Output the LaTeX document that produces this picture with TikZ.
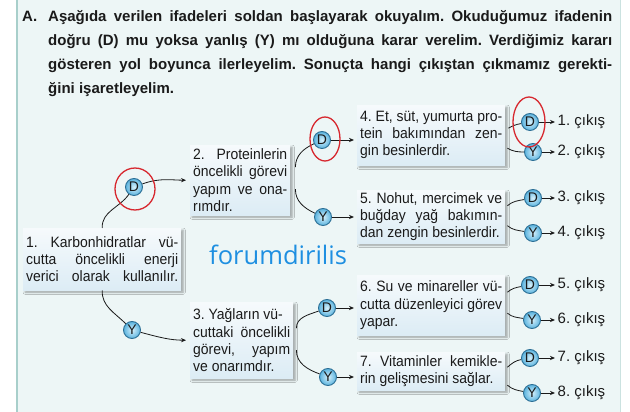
\documentclass[tikz,border=0pt]{standalone}
\usepackage{fontspec}
\setmainfont{Liberation Sans}
\newfontfamily\wmfont{Open Sans}
\newfontfamily\boxfont{Liberation Sans}[FakeStretch=0.93]
\usetikzlibrary{arrows.meta,calc,shadows.blur}
\frenchspacing
\newcommand\jline[1]{\makebox[\hsize][s]{#1}\\}
\definecolor{panel}{HTML}{EDF6F6}
\definecolor{panelline}{HTML}{A8CFCB}
\definecolor{boxtop}{HTML}{F6FAFC}
\definecolor{boxbot}{HTML}{DCECF5}
\definecolor{ballin}{HTML}{D6F0FB}
\definecolor{ballout}{HTML}{5AB3DE}
\definecolor{ballline}{HTML}{2C6F95}
\definecolor{ringred}{HTML}{D7282F}
\definecolor{wmblue}{HTML}{1E8FE1}
\definecolor{ink}{HTML}{1A1A1A}
\tikzset{
  box/.style={anchor=north west, inner xsep=3, inner ysep=2, align=justify,
    top color=boxtop, bottom color=boxbot, text=ink,
    font=\boxfont\fontsize{15}{17.2}\selectfont,
    blur shadow={shadow xshift=2pt, shadow yshift=-2pt, shadow blur steps=4, shadow opacity=35}},
  ball/.style={circle, minimum size=17, inner sep=0, draw=ballline, line width=0.9,
    inner color=ballin, outer color=ballout, text=ink, font=\fontsize{14}{14}\selectfont},
  conn/.style={draw=ink, line width=0.8},
  arrowc/.style={conn, -{Stealth[length=5,width=4.2]}},
  ring/.style={draw=ringred, line width=1.3},
  exitlbl/.style={anchor=west, inner sep=1.5, text=ink, font=\fontsize{15}{16}\selectfont},
}
\begin{document}
\begin{tikzpicture}[x=1pt,y=1pt]
\useasboundingbox (0,0) rectangle (630,412);
\fill[white] (0,0) rectangle (630,412);
\fill[panel] (17,0) rectangle (620,412);
\draw[panelline, line width=1.5] (17,0) -- (17,412);
\draw[panelline!60, line width=0.8] (620,0) -- (620,412);

% title
\node[anchor=base west, inner sep=0, text=ink, font=\fontsize{15}{23.7}\selectfont\bfseries] (TA) at (22,390) {A.};
\node[anchor=base west, inner sep=0, text width=564, align=justify, text=ink,
  font=\fontsize{15}{23.7}\selectfont\bfseries] (T) at (48,390)
  {\jline{Aşağıda verilen ifadeleri soldan başlayarak okuyalım. Okuduğumuz ifadenin}
   \jline{doğru (D) mu yoksa yanlış (Y) mı olduğuna karar verelim. Verdiğimiz kararı}
   \jline{gösteren yol boyunca ilerleyelim. Sonuçta hangi çıkıştan çıkmamız gerekti-}
   ğini işaretleyelim.};

% watermark
\node[anchor=west, inner sep=0, text=wmblue, font=\wmfont\fontsize{25.5}{26}\selectfont] (WM) at (209,157) {forumdirilis};

% boxes
\node[box, minimum width=158, minimum height=62, text width=152] (B1) at (23,184)
  {\jline{1. Karbonhidratlar vü-}\jline{cutta öncelikli enerji}\makebox[\hsize][s]{verici olarak kullanılır.}};
\node[box, minimum width=100, minimum height=70, text width=94] (B2) at (190,267)
  {\jline{2. Proteinlerin}\jline{öncelikli görevi}\jline{yapım ve ona-}rımdır.};
\node[box, minimum width=103, minimum height=76, text width=97] (B3) at (190,110)
  {3. Yağların vü-\\\jline{cuttaki öncelikli}\jline{görevi, yapım}ve onarımdır.};
\node[box, minimum width=148, minimum height=60, text width=142] (B4) at (357,307)
  {\jline{4. Et, süt, yumurta pro-}\jline{tein bakımından zen-}gin besinlerdir.};
\node[box, minimum width=148, minimum height=53, text width=142] (B5) at (357,222)
  {\jline{5. Nohut, mercimek ve}\jline{buğday yağ bakımın-}dan zengin besinlerdir.};
\node[box, minimum width=148, minimum height=60, text width=142] (B6) at (357,137)
  {\jline{6. Su ve minareller vü-}\jline{cutta düzenleyici görev}yapar.};
\node[box, minimum width=148, minimum height=38, text width=142] (B7) at (357,60)
  {\jline{7. Vitaminler kemikle-}rin gelişmesini sağlar.};

% decision balls
\node[ball] (D1) at (134,225) {D};
\node[ball] (Y1) at (132,82) {Y};
\node[ball] (D2) at (322,272) {D};
\node[ball] (Y2) at (323,195) {Y};
\node[ball] (D3) at (327,104) {D};
\node[ball] (Y3) at (328,35) {Y};
\node[ball] (D4) at (530,290) {D};
\node[ball] (Y4) at (533,260) {Y};
\node[ball] (D5) at (533,214) {D};
\node[ball] (Y5) at (533,179) {Y};
\node[ball] (D6) at (530,127) {D};
\node[ball] (Y6) at (532,92) {Y};
\node[ball] (D7) at (530,54) {D};
\node[ball] (Y7) at (532,19) {Y};

% exits
\node[exitlbl] (E1) at (556,290) {1. çıkış};
\node[exitlbl] (E2) at (556,260) {2. çıkış};
\node[exitlbl] (E3) at (556,214) {3. çıkış};
\node[exitlbl] (E4) at (556,179) {4. çıkış};
\node[exitlbl] (E5) at (556,127) {5. çıkış};
\node[exitlbl] (E6) at (556,92) {6. çıkış};
\node[exitlbl] (E7) at (556,54) {7. çıkış};
\node[exitlbl] (E8) at (556,19) {8. çıkış};
\foreach \b/\e in {D4/E1,Y4/E2,D5/E3,Y5/E4,D6/E5,Y6/E6,D7/E7,Y7/E8}
  \draw[arrowc, shorten >=1] (\b) -- (\b -| \e.west);

% connectors level 1
\draw[conn] (B1.north) to[out=92,in=235] (D1);
\draw[conn] (B1.south) to[out=-92,in=135] (Y1);
\draw[arrowc, shorten >=4] (D1) to[out=20,in=180] (B2.west);
\draw[arrowc, shorten >=4] (Y1) to[out=-15,in=180] (B3.west);

% connectors level 2
\coordinate (b2u) at ($(B2.east)+(5,13)$);
\coordinate (b2d) at ($(B2.east)+(5,-9)$);
\draw[conn] (b2u) to[out=90,in=205] (D2);
\draw[conn] (b2d) to[out=-90,in=155] (Y2);
\coordinate (b3u) at ($(B3.east)+(3,12)$);
\coordinate (b3d) at ($(B3.east)+(3,-10)$);
\draw[conn] (b3u) to[out=90,in=200] (D3);
\draw[conn] (b3d) to[out=-90,in=160] (Y3);
\draw[arrowc, shorten >=3] (D2) -- (D2 -| B4.west);
\draw[arrowc, shorten >=3] (Y2) -- (Y2 -| B5.west);
\draw[arrowc, shorten >=3] (D3) -- (D3 -| B6.west);
\draw[arrowc, shorten >=3] (Y3) -- (Y3 -| B7.west);

% connectors level 3
\coordinate (b4u) at ($(B4.east)+(3,7)$);
\coordinate (b4d) at ($(B4.east)+(2,-13)$);
\draw[conn] (b4u) to[out=30,in=190] (D4);
\draw[conn] (b4d) to[out=-30,in=180] (Y4);
\coordinate (b5u) at ($(B5.east)+(2,11)$);
\coordinate (b5d) at ($(B5.east)+(2,-9)$);
\draw[conn] (b5u) to[out=40,in=190] (D5);
\draw[conn] (b5d) to[out=-40,in=170] (Y5);
\coordinate (b6u) at ($(B6.east)+(2,13)$);
\coordinate (b6d) at ($(B6.east)+(2,-8)$);
\draw[conn] (b6u) to[out=40,in=190] (D6);
\draw[conn] (b6d) to[out=-40,in=170] (Y6);
\coordinate (b7u) at ($(B7.east)+(2,4)$);
\coordinate (b7d) at ($(B7.east)+(2,-14)$);
\draw[conn] (b7u) to[out=40,in=190] (D7);
\draw[conn] (b7d) to[out=-40,in=170] (Y7);

% red rings
\draw[ring] ($(D1)+(1,-2)$) ellipse [x radius=20, y radius=21];
\draw[ring] ($(D2)+(3,1)$) ellipse [x radius=15, y radius=22];
\draw[ring] ($(D4)+(-1,0)$) ellipse [x radius=16, y radius=25];
\end{tikzpicture}
\end{document}
